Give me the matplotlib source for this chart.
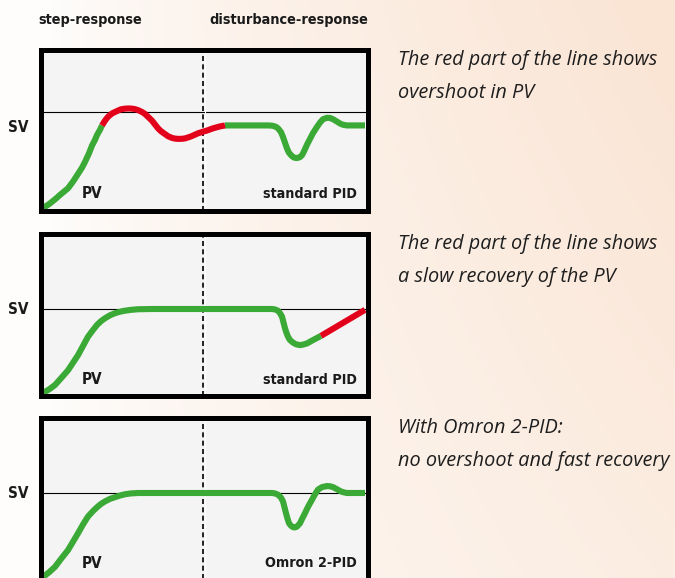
import numpy as np
import matplotlib
matplotlib.use('Agg')
import matplotlib.pyplot as plt

# time axis runs 0..322, PV in % of SV (SV = 100)
# panel 1: standard PID, step response with overshoot (red part)
p1_green1_t = [0, 6, 12, 18, 25, 30, 35, 39, 42, 46, 49, 52, 54, 57, 59]
p1_green1_y = [0, 4, 9, 14.5, 20.5, 27.5, 35.5, 42, 48, 57, 65, 71, 76, 81.5, 86]
p1_red_t = [59, 62, 65, 69, 74, 78, 82, 86, 89, 92, 95, 99, 102, 105, 109, 112, 115, 118, 122,
            125, 129, 132, 135, 139, 142, 146, 149, 155, 160, 164, 170, 177, 182]
p1_red_y = [86, 91, 95, 98.5, 101, 102.8, 103.5, 103.7, 103.5, 103, 102, 100, 98, 95, 91, 87, 83, 80, 77,
            74.8, 73, 72.3, 72, 72.1, 72.5, 73.8, 75, 77.8, 79.5, 80.7, 83, 85, 86]
p1_green2_t = [182, 226, 230, 233, 235, 238, 240, 242, 244, 246, 249, 251, 254, 257, 259, 261, 264,
               267, 270, 274, 277, 280, 284, 287, 290, 294, 297, 300, 304, 322]
p1_green2_y = [86, 86, 85.6, 84.5, 83, 79, 74, 68, 62, 57.5, 54, 52.5, 52, 53, 55, 59, 66,
               72, 78, 84.5, 89, 92.5, 94, 93.8, 92.5, 90, 88, 86.7, 86, 86]

# panel 2: standard PID, slow recovery after disturbance (red part)
p2_green_t = [0, 6, 12, 18, 25, 30, 35, 40, 45, 50, 54, 58, 62, 67, 72, 77, 82, 88, 95, 109,
              229, 232, 235, 237, 239, 240.5, 242, 243.5, 245, 247, 250, 253, 257, 260, 264, 267, 270, 274, 278]
p2_green_y = [0, 4.2, 9.5, 17.5, 27, 36, 45, 56, 67, 75, 81, 85.5, 89, 92.5, 95, 96.8, 98, 99, 99.7, 100,
              100, 99.5, 98, 95, 91, 84, 77, 71.5, 67, 63, 60, 58, 57, 57.6, 59, 61, 63, 65.5, 68]
p2_red_t = [278, 322]
p2_red_y = [68, 99]

# panel 3: Omron 2-PID
p3_t = [0, 6, 12, 18, 25, 30, 35, 40, 45, 50, 54, 58, 62, 67, 72, 77, 82, 88, 95, 109,
        229, 232, 235, 238, 240, 241.5, 243, 244.5, 246, 248, 250, 252, 254, 257, 259, 262, 265,
        269, 272, 275, 279, 284, 287, 290, 294, 297, 300, 304, 322]
p3_y = [0, 5.5, 12, 21.5, 32, 42, 52, 62.5, 72, 78.5, 83, 87, 90, 93, 95, 97, 98.5, 99.5, 100, 100,
        100, 99.5, 98, 94.5, 90, 83, 76, 69.5, 64, 61, 59.3, 59, 60, 64, 69, 76, 83.5,
        92, 98.5, 104, 107, 108.3, 108, 107, 104.5, 102.4, 101, 100, 100]

sv = 100
t_split = 160

headers = ['step-response', 'disturbance-response']
notes = [
    ['The red part of the line shows', 'overshoot in PV'],
    ['The red part of the line shows', 'a slow recovery of the PV'],
    ['With Omron 2-PID:', 'no overshoot and fast recovery'],
]
tags = ['standard PID', 'standard PID', 'Omron 2-PID']

green = '#3aa935'
red = '#e2001a'

W, H = 675, 578
fig = plt.figure(figsize=(W / 100, H / 100), dpi=100)

def fx(px):
    return px / W

def fy(py):
    return 1 - py / H

# background: white on the left, warm peach on the right
bg = fig.add_axes([0, 0, 1, 1])
gx = np.linspace(0, 1, 300)
gy = np.linspace(0, 1, 200)[:, None]
k = np.clip((gx - 0.08) / 0.92, 0, 1) ** 0.7 * (1 - 0.35 * gy)
c0 = np.array([254, 253, 252]) / 255
c1 = np.array([250, 228, 211]) / 255
img = c0 + (c1 - c0) * k[..., None]
bg.imshow(img, aspect='auto', extent=[0, 1, 0, 1])
bg.set_axis_off()

# panel boxes in pixels: left, top, width, height
boxes = [(40.5, 49.5, 327, 161), (40.5, 233.5, 327, 162.5), (40.5, 418, 327, 162)]
ylims = [(-2.6, 165.1), (-3.6, 189.9), (-3.6, 189.3)]
sv_label_y = [127, 310, 494]
label_y = [194, 380, 563]

cond = dict(family='DejaVu Sans', stretch='condensed', weight='semibold', color='#1a1a1a')

for i, (l, t, w, h) in enumerate(boxes):
    ax = fig.add_axes([fx(l), fy(t + h), w / W, h / H])
    ax.set_facecolor('#f4f4f4')
    ax.set_xlim(-2.5, 324.5)
    ax.set_ylim(*ylims[i])
    ax.set_xticks([])
    ax.set_yticks([])
    for s in ax.spines.values():
        s.set_linewidth(3.6)
        s.set_color('black')
    ax.axhline(sv, color='black', lw=0.8, zorder=1)
    ax.axvline(t_split + 1.5, color='white', lw=0.8, zorder=1)
    ax.axvline(t_split, color='black', lw=1.2, ls=(0, (3, 2)), zorder=1)

    kw = dict(lw=4.4, solid_capstyle='butt', solid_joinstyle='round', zorder=2)
    if i == 0:
        ax.plot(p1_green1_t, p1_green1_y, color=green, **kw)
        ax.plot(p1_green2_t, p1_green2_y, color=green, **kw)
        ax.plot(p1_red_t, p1_red_y, color=red, **kw)
    elif i == 1:
        ax.plot(p2_green_t, p2_green_y, color=green, **kw)
        ax.plot(p2_red_t, p2_red_y, color=red, **kw)
    else:
        ax.plot(p3_t, p3_y, color=green, **kw)

    fig.text(fx(18.5), fy(sv_label_y[i]), 'SV', ha='center', va='center', fontsize=11, **cond)
    fig.text(fx(82), fy(label_y[i]), 'PV', ha='left', va='center', fontsize=11, **cond)
    fig.text(fx(357), fy(label_y[i]), tags[i], ha='right', va='center', fontsize=10.3, **cond)

    note_top = [60, 244, 428][i]
    for j, line in enumerate(notes[i]):
        fig.text(fx(398), fy(note_top + 33 * j), line, ha='left', va='center',
                 fontsize=14.3, family='Open Sans', style='italic', color='#1e1e1e')

fig.text(fx(38), fy(20), headers[0], ha='left', va='center', fontsize=10.4, **cond)
fig.text(fx(368), fy(20), headers[1], ha='right', va='center', fontsize=10.4, **cond)

fig.savefig('out.png', dpi=100)
